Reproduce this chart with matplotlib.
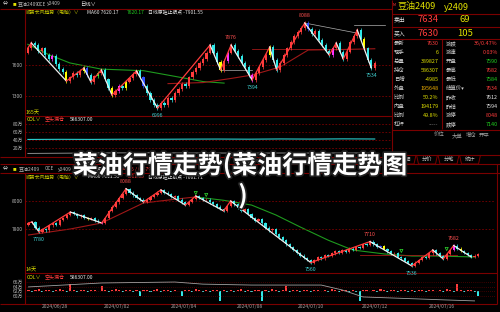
import matplotlib
matplotlib.use("Agg")
import matplotlib.pyplot as plt
import matplotlib.patheffects as pe
from matplotlib.patches import Polygon

plt.rcParams['font.family'] = ['Noto Sans CJK SC', 'DejaVu Sans']
plt.rcParams['axes.unicode_minus'] = False

# ---------------- data: daily chart (top) ----------------
day_open0 = 7720
day_close = [7764, 7813, 7790, 7735, 7760, 7700, 7655, 7690, 7610, 7560,
             7530, 7445, 7480, 7520, 7500, 7545, 7571, 7500, 7436, 7490,
             7525, 7552, 7460, 7380, 7310, 7350, 7400, 7380, 7440, 7470,
             7510, 7542, 7480, 7400, 7330, 7260, 7210, 7184, 7230, 7215,
             7280, 7260, 7330, 7370, 7420, 7400, 7480, 7530, 7570, 7620,
             7660, 7720, 7793, 7720, 7630, 7552, 7640, 7720, 7793, 7740,
             7690, 7620, 7580, 7500, 7455, 7520, 7580, 7650, 7700, 7774,
             7650, 7552, 7620, 7700, 7760, 7820, 7880, 7920, 7960, 8006,
             7950, 7900, 7930, 7840, 7790, 7740, 7697, 7760, 7813, 7730,
             7658, 7730, 7820, 7880, 7938, 7850, 7760, 7650, 7571, 7619]
day_pivots = [0, 1, 11, 16, 18, 21, 24, 31, 37, 52, 55, 58, 64, 69, 71, 79,
              86, 88, 90, 94, 98]
day_label_idx = [37, 58, 64, 79, 98]
day_label_txt = ['6996', '7876', '7394', '8088', '7534']
day_hl_idx = [7, 11, 16, 17, 20, 24, 26, 28, 33, 55, 57, 64, 69, 80, 87, 96]
day_hl_col = ['#FF30FF', '#FFFF00', '#FFFF00', '#3050FF', '#30FF30', '#FFFF00',
              '#FF30FF', '#FFFF00', '#3050FF', '#FFFF00', '#FF30FF', '#FF30FF',
              '#FFFF00', '#3050FF', '#FF30FF', '#FFFF00']
day_ma_g_idx = [0, 6, 12, 21, 33, 42, 50, 56]
day_ma_g_val = [7800, 7700, 7620, 7560, 7545, 7490, 7440, 7425]
day_ma_r_idx = [40, 50, 58, 64, 72, 80, 90, 99]
day_ma_r_val = [7420, 7430, 7470, 7503, 7581, 7745, 7750, 7757]
day_oi_idx = [0, 9, 18, 27, 36, 45, 54, 63, 72, 81, 90, 99]
day_oi_val = [41.5, 41.8, 41.6, 42.0, 41.9, 42.2, 42.4, 42.1, 42.6, 42.3, 42.8, 42.5]
day_vol_val = [6.5, 7.0, 7.5, 7.8, 8.0, 7.6, 7.5, 7.2, 7.5, 7.4, 7.6, 7.5]
day_date_idx = [19.5, 41.5, 66.6, 90.0]
day_dates = ['2024/01/02', '2024/03/01', '2024/05/06', '2024/07/01']

# ---------------- data: 15-minute chart (bottom) ----------------
m15_open0 = 7830
m15_close = [7843, 7850, 7810, 7780, 7800, 7790, 7825, 7840, 7830, 7865,
             7880, 7900, 7921, 7905, 7890, 7900, 7880, 7870, 7875, 7860,
             7850, 7843, 7880, 7930, 7960, 7990, 8020, 8050, 8088, 8060,
             8040, 8020, 8010, 7993, 8010, 8030, 8045, 8060, 8079, 8060,
             8050, 8030, 8035, 8010, 7990, 7971, 7995, 8015, 8036, 8020,
             8005, 8010, 7990, 7975, 7960, 7945, 7929, 7965, 8000, 7975,
             7950, 7930, 7940, 7905, 7880, 7860, 7870, 7840, 7810, 7790,
             7800, 7765, 7740, 7720, 7690, 7670, 7650, 7630, 7610, 7595,
             7580, 7560, 7580, 7600, 7590, 7615, 7605, 7625, 7640, 7630,
             7650, 7635, 7660, 7650, 7670, 7665, 7690, 7685, 7710, 7690,
             7670, 7680, 7655, 7640, 7625, 7630, 7600, 7590, 7570, 7555,
             7536, 7560, 7580, 7600, 7595, 7625, 7650, 7625, 7605, 7586,
             7620, 7650, 7682, 7660, 7645, 7630, 7615, 7600, 7610, 7621]
m15_pivots = [0, 1, 3, 12, 21, 28, 33, 38, 45, 48, 56, 58, 81, 98, 110, 116,
              119, 122, 127]
m15_label_idx = [3, 28, 81, 98, 110, 122]
m15_hl_idx = [17, 21, 101, 102, 122, 124]
m15_hl_col = ['#FFFF00', '#FF30FF', '#3050FF', '#FFFF00', '#FF30FF', '#FFFF00']
m15_ma_r_idx = [0, 12, 21, 33, 45, 48]
m15_ma_r_val = [7757, 7800, 7843, 7986, 8021, 8029]
m15_ma_g_idx = [48, 56, 64, 71, 78, 86, 93, 102, 110, 117, 128]
m15_ma_g_val = [8029, 8005, 7971, 7900, 7814, 7720, 7650, 7622, 7607, 7607, 7600]
m15_sig_idx = [48, 51, 107, 120]
m15_sig_val = [8057, 8043, 7643, 7657]
m15_oi_chg = [0.3, -0.4, 0.5, 0.6, -0.3, 0.4, 0.2, -0.5, 0.3, 0.6,
              0.4, -0.3, 3.0, 0.5, -0.4, 0.3, 0.4, -0.6, 0.5, 0.3,
              -0.2, 2.0, 0.4, -0.3, 0.5, 0.6, 0.4, -0.5, 0.3, 0.2,
              -0.4, 0.5, -2.1, 0.4, 0.3, -0.5, 0.4, 0.6, -0.3, 0.2,
              0.5, -0.4, 0.3, -0.2, -2.0, 0.4, 0.3, -0.5, 0.6, 0.2,
              -0.3, 0.4, -0.6, 0.3, 0.2, -4.3, 0.5, -0.3, 0.4, -0.5,
              0.3, 0.6, -0.4, 0.2, -0.3, 0.5, 0.4, -4.3, 0.3, -0.5,
              0.6, 0.4, -0.3, 0.2, 2.2, -0.4, 0.5, 0.3, -0.6, 0.4,
              0.2, -0.3, 0.5, 0.4, -0.2, 0.3, -0.5, 0.6, 0.3, -0.4,
              0.2, 0.5, -0.3, 0.4, -0.6, -4.3, 0.3, 0.5, -0.2, 0.4,
              -0.3, 0.6, 0.2, -0.5, 0.4, 0.3, -0.4, 0.2, 0.5, -0.3,
              0.4, -0.6, 0.3, 0.2, -0.4, 0.5, 0.3, -0.2, 0.4, -0.5,
              0.6, 0.3, -0.4, 3.0, 0.2, -0.3, 0.5, 0.4, -0.6, -2.0]
m15_oi_base = 62.2
m15_line_idx = [0, 10, 21, 42, 50, 64, 84, 90, 96, 120, 128]
m15_line_val = [63.9, 64.7, 65.6, 66.0, 65.1, 64.7, 64.7, 62.6, 59.6, 58.3, 57.9]
m15_date_idx = [7.5, 25.5, 44.5, 63.5, 81.0, 99.5, 118.5]
m15_dates = ['2024/06/28', '2024/07/02', '2024/07/04', '2024/07/08',
             '2024/07/10', '2024/07/12', '2024/07/16']

# ---------------- quote panel ----------------
left_labels = ['最新', '现手', '总量', '持仓', '日增', '外盘', '比例', '内盘', '比例', '杠杆']
left_values = ['7630', '6', '389827', '586307', '-4985', '195648', '50.2%',
               '194179', '49.8%', '-----']
right_labels = ['涨跌', '涨速', '开盘', '最高', '最低', '结算价▾', '昨收', '昨结', '涨停', '跌停']
right_values = ['36/0.47%', '0.03%', '7590', '7682', '7584', '7634', '7612',
                '7594', '8048', '7140']

# ---------------- styles ----------------
RED = '#FF3C3C'
CYAN = '#30E8E8'
YEL = '#E0E000'
GRN = '#20D020'
FR = '#7A0000'
GRAY = '#B8B8B8'
WHITE = '#E8E8E8'
left_colors = [RED, YEL, YEL, YEL, YEL, '#F0B000', YEL, YEL, YEL, '#909090']
right_colors = [RED, RED, GRN, RED, GRN, RED, WHITE, WHITE, RED, GRN]

W, H = 500, 312
fig = plt.figure(figsize=(5, 3.12), dpi=100, facecolor='black')


def box(x0, y0, x1, y1):
    return [x0 / W, 1 - y1 / H, (x1 - x0) / W, (y1 - y0) / H]


bg = fig.add_axes([0, 0, 1, 1], zorder=0)
bg.set_xlim(0, W)
bg.set_ylim(H, 0)
bg.axis('off')
bg.set_facecolor('black')


def hl(y, x0, x1, c=FR, lw=0.8):
    bg.plot([x0, x1], [y, y], color=c, lw=lw, solid_capstyle='butt')


def vl(x, y0, y1, c=FR, lw=0.8):
    bg.plot([x, x], [y0, y1], color=c, lw=lw, solid_capstyle='butt')


def t(x, y, s, c=WHITE, fs=4.0, ha='left', **kw):
    bg.text(x, y, s, color=c, fontsize=fs, ha=ha, va='center', **kw)


# frames
hl(8.5, 0, 392)
vl(24.5, 8.5, 157)
hl(116, 24.5, 392)
hl(157, 0, 392)
hl(164, 0, 500)
vl(392, 0, 164)
hl(173, 0, 500)
vl(24.5, 173, 304)
hl(273, 24.5, 497)
hl(304, 0, 497)
vl(497, 164, 304)

# headers
for yy in (4, 169):
    t(3, yy, '⇔', WHITE, 3.6)
    t(13, yy, '■', YEL, 2.6)
t(18, 4, '豆油2409', GRAY, 3.6)
t(37, 4, 'OCE', GRAY, 3.4)
t(47, 4, 'y2409', GRAY, 3.6)
t(80, 4, '日线∨', WHITE, 3.8)
t(26, 12, '顺势长风趋势（电脑）∨', '#C8C800', 3.5)
t(87, 12, 'MA60 7620.17', WHITE, 3.5)
t(127, 12, '7620.17', GRN, 3.5)
t(148, 12, '日线原驻止损点 -7901.55', WHITE, 3.5)

t(19, 169, '豆油2409', GRAY, 3.6)
t(45, 169, 'OCE', GRAY, 3.4)
t(58, 169, 'y2409', GRAY, 3.6)
t(85, 169, '15分钟∨', WHITE, 3.8)
t(115, 169, '7630', RED, 3.8)
t(128, 169, '36 / 0.47%', RED, 3.8)
t(26, 177, '顺势长风趋势（电脑）∨', '#C8C800', 3.5)
t(88, 177, 'MA60 7611.53', WHITE, 3.5)
t(127, 177, '7611.53', RED, 3.5)
t(148, 177, '日线原驻止损点 -7661.71', WHITE, 3.5)

t(25, 112, '165天', YEL, 3.8)
t(27, 119.5, 'COL∨', YEL, 3.6)
t(45, 119.5, '空头漏仓', RED, 3.6)
t(70, 119.5, '586307.00', WHITE, 3.6)
t(25, 269.5, '14天', YEL, 3.8)
t(27, 277.5, 'COL∨', YEL, 3.6)
t(45, 277.5, '空头漏仓', RED, 3.6)
t(70, 277.5, '586307.00', WHITE, 3.6)

# quote panel
t(393, 4.5, 'M', RED, 2.6)
t(398, 7, '豆油2409', YEL, 6.5)
t(444, 7, 'y2409', YEL, 6.5)
hl(13.5, 392, 500)
t(394, 20, '卖出', WHITE, 4.2)
t(428, 20, '7634', RED, 6.8, ha='center')
t(465, 20, '69', YEL, 6.8, ha='center')
hl(27, 392, 500)
t(394, 33, '买入', WHITE, 4.2)
t(428, 33, '7630', RED, 6.8, ha='center')
t(465, 33, '105', YEL, 6.8, ha='center')
hl(38.5, 392, 500)
vl(442, 38.5, 129)
for k in range(len(left_labels)):
    yy = 43.5 + k * 9.0
    t(394, yy, left_labels[k], '#D0D0D0', 3.9)
    t(438.5, yy, left_values[k], left_colors[k], 3.9, ha='right')
    t(446, yy, right_labels[k], '#D0D0D0', 3.9)
    t(498, yy, right_values[k], right_colors[k], 3.9, ha='right')
hl(129.5, 392, 500)
for xx, s in zip([439, 457, 471, 484], ['价位', '大单', '增仓', '开平']):
    t(xx, 135.5, s, '#A0A0A0', 3.9, ha='center')
hl(154.5, 392, 500)
for k, s in enumerate(['明细', '分价', '分笔', '统计']):
    x0 = 395 + k * 21.5
    bg.add_patch(Polygon([[x0, 155], [x0 + 2, 164], [x0 + 19, 164], [x0 + 21, 155]],
                         closed=False, fill=False, ec=FR, lw=0.7))
    t(x0 + 10.5, 159.5, s, '#C8C8C8', 3.8, ha='center')


# ---------------- chart helpers ----------------
def style_ax(ax):
    ax.set_facecolor('none')
    for sp in ax.spines.values():
        sp.set_visible(False)
    ax.tick_params(axis='both', length=0, colors=GRAY, labelsize=3.5, pad=1.5)


def candles(ax, closes, open0, hl_idx, hl_col, wick):
    opens = [open0] + closes[:-1]
    xs = list(range(len(closes)))
    cols = [RED if c >= o else CYAN for o, c in zip(opens, closes)]
    for i, c in zip(hl_idx, hl_col):
        cols[i] = c
    lows = [min(o, c) - wick for o, c in zip(opens, closes)]
    highs = [max(o, c) + wick for o, c in zip(opens, closes)]
    ax.vlines(xs, lows, highs, colors=cols, lw=0.5, zorder=2)
    heights = [max(abs(c - o), wick * 0.25) for o, c in zip(opens, closes)]
    bottoms = [min(o, c) for o, c in zip(opens, closes)]
    ax.bar(xs, heights, bottom=bottoms, width=0.62, color=cols, lw=0, zorder=3)
    return cols


def zigzag(ax, closes, piv):
    for a, b in zip(piv[:-1], piv[1:]):
        col = RED if closes[b] > closes[a] else '#F0F0F0'
        ax.plot([a, b], [closes[a], closes[b]], color=col, lw=0.9, zorder=4)


def labels(ax, closes, idxs, txts):
    for i, s in zip(idxs, txts):
        hi = (i == 0 or closes[i] >= closes[i - 1])
        ax.annotate(s, (i, closes[i]), xytext=(0, 3.5 if hi else -3.5),
                    textcoords='offset points', ha='center',
                    va='bottom' if hi else 'top', fontsize=3.8,
                    color='#FF5050' if hi else '#40D0D0', zorder=6)


# ---------------- top daily chart ----------------
ax1 = fig.add_axes(box(25, 14, 392, 116), zorder=2)
style_ax(ax1)
step1 = 3.505
ax1.set_xlim(-0.8, -0.8 + 367 / step1)
ax1.set_ylim(7107, 8093)
ax1.set_xticks([])
ax1.set_yticks([7300, 7600])
ax1.set_yticklabels(['7300', '7600'])
ax1.grid(axis='y', color=FR, lw=0.6, ls=(0, (2, 2)))
ax1.plot(day_ma_g_idx, day_ma_g_val, color='#1E9A1E', lw=0.8, zorder=1)
ax1.plot(day_ma_r_idx, day_ma_r_val, color='#A01818', lw=0.8, zorder=1)
ax1.plot([55, 64], [day_close[55], day_close[55]], color='#B0B0B0', lw=0.5)
ax1.plot([64, 92], [day_close[69] - 20, day_close[69] - 20], color='#A01818', lw=0.6)
ax1.plot([93, 102], [day_close[94] + 50, day_close[94] + 50], color='#B0B0B0', lw=0.5)
ax1.plot([79, 94], [day_close[79], day_close[94] - 30], color='#B0B0B0', lw=0.5)
candles(ax1, day_close, day_open0, day_hl_idx, day_hl_col, 18)
zigzag(ax1, day_close, day_pivots)
labels(ax1, day_close, day_label_idx, day_label_txt)

ax2 = fig.add_axes(box(25, 117, 392, 157), zorder=2)
style_ax(ax2)
ax2.set_xlim(-0.8, -0.8 + 367 / step1)
ax2.set_ylim(-2.5, 97.5)
ax2.set_yticks([20, 40, 60, 80])
ax2.set_yticklabels(['20万', '40万', '60万', '80万'])
ax2.grid(axis='y', color=FR, lw=0.6, ls=(0, (2, 2)))
ax2.plot(day_oi_idx, day_oi_val, color=CYAN, lw=0.7)
ax2.plot(day_oi_idx, day_vol_val, color='#A0A0A0', lw=0.6)
ax2.set_xticks(day_date_idx)
ax2.set_xticklabels(day_dates, fontsize=3.6, color='#A0A0A0')
ax2.tick_params(axis='x', pad=1.2)

# ---------------- bottom 15-minute chart ----------------
ax3 = fig.add_axes(box(25, 180, 495, 270), zorder=2)
style_ax(ax3)
step3 = 3.485
ax3.set_xlim(-1, -1 + 470 / step3)
ax3.set_ylim(7507, 8150)
ax3.set_xticks([])
ax3.set_yticks([7800, 8000])
ax3.set_yticklabels(['7800', '8000'])
ax3.grid(axis='y', color=FR, lw=0.6, ls=(0, (2, 2)))
ax3.plot(m15_ma_r_idx, m15_ma_r_val, color='#A01818', lw=0.8, zorder=1)
ax3.plot(m15_ma_g_idx, m15_ma_g_val, color='#1E9A1E', lw=0.8, zorder=1)
ax3.plot([95, 123], [7614, 7614], color='#A01818', lw=0.6, zorder=1)
m15_cols = candles(ax3, m15_close, m15_open0, m15_hl_idx, m15_hl_col, 8)
zigzag(ax3, m15_close, m15_pivots)
labels(ax3, m15_close, m15_label_idx, [str(m15_close[i]) for i in m15_label_idx])
ax3.scatter(m15_sig_idx, m15_sig_val, marker='v', s=5, facecolors='none',
            edgecolors='#30E030', lw=0.5, zorder=5)

ax4 = fig.add_axes(box(25, 279, 495, 303), zorder=2)
style_ax(ax4)
ax4.set_xlim(-1, -1 + 470 / step3)
ax4.set_ylim(57.0, 67.3)
ax4.set_yticks([60, 62, 64, 66])
ax4.set_yticklabels(['60万', '62万', '64万', '66万'])
ax4.grid(axis='y', color=FR, lw=0.5, ls=(0, (1, 2)))
ax4.bar(range(len(m15_oi_chg)), m15_oi_chg, bottom=m15_oi_base, width=0.6,
        color=[RED if v > 0 and i % 3 else CYAN if v < 0 else RED
               for i, v in enumerate(m15_oi_chg)], lw=0)
ax4.plot(m15_line_idx, m15_line_val, color='#A0A0A0', lw=0.6)
ax4.set_xticks(m15_date_idx)
ax4.set_xticklabels(m15_dates, fontsize=3.6, color='#A0A0A0')
ax4.tick_params(axis='x', pad=1.0)

# ---------------- overlay title ----------------
stroke = [pe.withStroke(linewidth=2.5, foreground='#202020')]
fig.text(240 / W, 1 - 165 / H, '菜油行情走势(菜油行情走势图', color='white',
         fontsize=18, fontweight='bold', ha='center', va='center',
         path_effects=stroke, zorder=10)
fig.text(243 / W, 1 - 196 / H, ')', color='white', fontsize=18,
         fontweight='bold', ha='center', va='center', path_effects=stroke,
         zorder=10)

fig.savefig('out.png', dpi=100, facecolor='black')
